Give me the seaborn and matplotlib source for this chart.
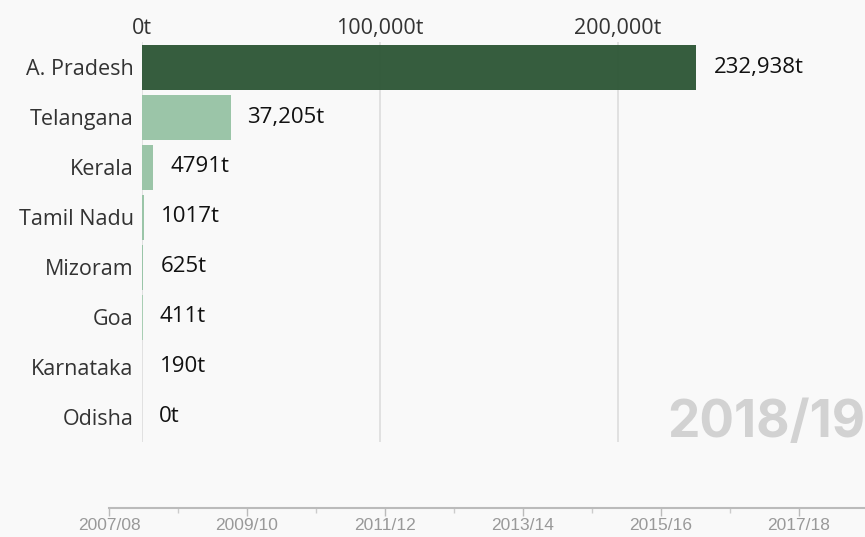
import matplotlib
matplotlib.use("Agg")
import matplotlib.pyplot as plt
import seaborn as sns
import pandas as pd
from matplotlib.ticker import FixedLocator, MultipleLocator

states = ["A. Pradesh", "Telangana", "Kerala", "Tamil Nadu", "Mizoram", "Goa", "Karnataka", "Odisha"]
values = [232938, 37205, 4791, 1017, 625, 411, 190, 0]
value_labels = ["232,938t", "37,205t", "4791t", "1017t", "625t", "411t", "190t", "0t"]
bar_colors = ["#2f5838", "#98c4a6", "#98c4a6", "#98c4a6", "#98c4a6", "#a8ceb3", "#d4e6da", "#d4e6da"]
x_ticks = [0, 100000, 200000]
x_tick_labels = ["0t", "100,000t", "200,000t"]
year_labels = ["2007/08", "2009/10", "2011/12", "2013/14", "2015/16", "2017/18"]
current_year = "2018/19"

BG = "#f9f9f9"
sns.set_theme(style="white")
plt.rcParams["font.family"] = ["Open Sans", "DejaVu Sans"]

W, H = 865, 537
fig = plt.figure(figsize=(W / 100, H / 100), dpi=100, facecolor=BG)

# main bar axes: x=0 at px 142, 100k per 238 px; rows from y=42 to 442
left_px, right_px, top_px, bot_px = 142, 865, 42, 442
ax = fig.add_axes([left_px / W, 1 - bot_px / H, (right_px - left_px) / W, (bot_px - top_px) / H])
ax.set_facecolor(BG)

df = pd.DataFrame({"state": states, "value": values})
sns.barplot(data=df, x="value", y="state", hue="state", palette=bar_colors,
            order=states, orient="h", width=0.9, legend=False, ax=ax,
            saturation=1, alpha=0.97, zorder=2, linewidth=0, edgecolor="none")

ax.set_xlim(0, (right_px - left_px) / 238 * 100000)
ax.set_ylim(len(states) - 0.5, -0.5)
ax.xaxis.set_major_locator(FixedLocator(x_ticks))
ax.set_xticklabels(x_tick_labels)
ax.xaxis.tick_top()
ax.tick_params(axis="x", length=0, pad=2, labelsize=15.5, labelcolor="#333333")
ax.tick_params(axis="y", length=0, pad=6, labelsize=15.5, labelcolor="#333333")
ax.set_xlabel("")
ax.set_ylabel("")
for s in ax.spines.values():
    s.set_visible(False)
for xt in x_ticks:
    ax.axvline(xt, color="#dddddd", lw=1.2, zorder=1.5)

offset = 17 / 238 * 100000
for i, (v, lab) in enumerate(zip(values, value_labels)):
    ax.text(v + offset, i, lab, va="center", ha="left", fontsize=16, color="#111111", zorder=3)

ax.text(1.0, 5 / (bot_px - top_px), current_year, transform=ax.transAxes, ha="right", va="baseline",
        fontsize=37, fontweight="bold", color="#d2d2d2", family=["Inter", "DejaVu Sans"],
        zorder=0)

# timeline axes: 2007/08 at px 109, 69 px per year
t_left, t_right, t_y = 109, 865, 508
tax = fig.add_axes([t_left / W, 1 - t_y / H, (t_right - t_left) / W, 0.001])
tax.set_facecolor("none")
n_years = (t_right - t_left) / 69
tax.set_xlim(0, n_years)
tax.set_yticks([])
tax.xaxis.set_major_locator(FixedLocator([2 * i for i in range(len(year_labels))]))
tax.set_xticklabels(year_labels)
tax.xaxis.set_minor_locator(MultipleLocator(1))
for name, s in tax.spines.items():
    s.set_visible(name == "bottom")
tax.spines["bottom"].set_color("#bbbbbb")
tax.spines["bottom"].set_linewidth(1.5)
tax.tick_params(axis="x", which="both", bottom=True, top=False)
tax.tick_params(axis="x", which="major", length=6, width=1, color="#bbbbbb", direction="out",
                labelsize=12.5, labelcolor="#999999", pad=1)
tax.tick_params(axis="x", which="minor", length=3.5, width=1, color="#cccccc", direction="out")
for lab in tax.get_xticklabels():
    lab.set_family(["Liberation Sans Narrow", "Liberation Sans", "DejaVu Sans"])

fig.savefig("out.png", dpi=100, facecolor=BG)
